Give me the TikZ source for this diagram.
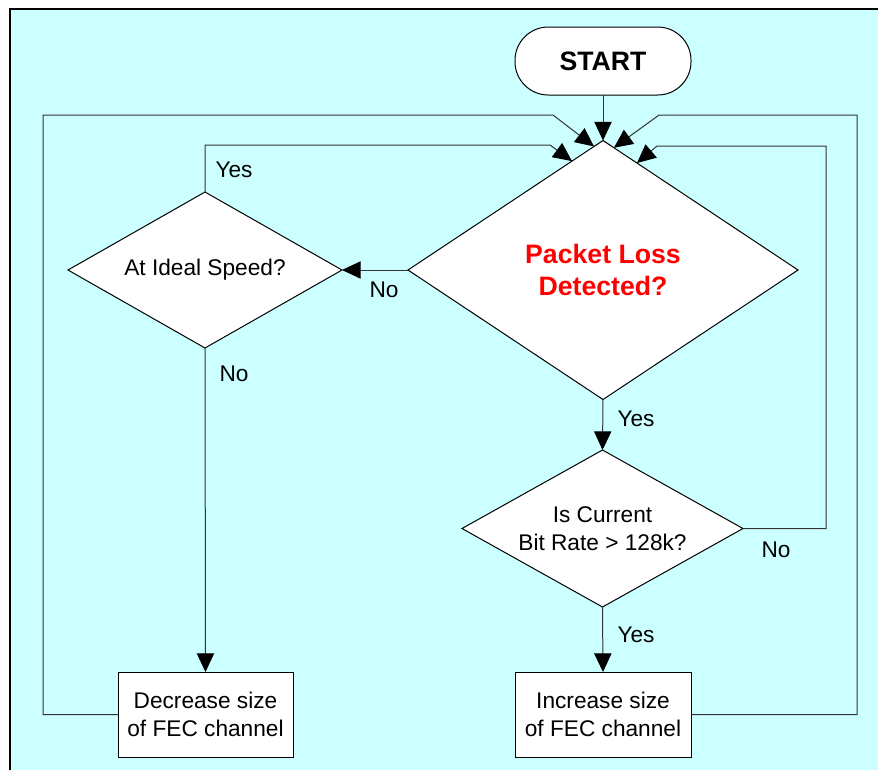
\documentclass[tikz,border=0pt]{standalone}
\usepackage{fontspec}
\setmainfont{Liberation Sans}
\usetikzlibrary{shapes.geometric,arrows.meta,calc}
\definecolor{bg}{HTML}{CCFFFF}
\definecolor{lossred}{HTML}{FF0000}
\begin{document}
\begin{tikzpicture}[x=0.75pt,y=-0.75pt,
  every node/.style={font=\fontsize{17}{21}\selectfont},
  dia/.style={diamond, draw=black, fill=white, line width=0.75pt, inner sep=0pt, outer sep=0pt, align=center},
  box/.style={rectangle, draw=black, fill=white, line width=0.75pt, inner sep=0pt, outer sep=0pt, minimum width=131.25pt, minimum height=63.75pt, align=center},
  conn/.style={line width=0.75pt, draw=black!80},
  arr/.style={conn, -{Triangle[length=14pt,width=13pt,color=black]}},
  lbl/.style={inner sep=0pt}
]
\useasboundingbox (0,0) rectangle (878,769);
\fill[white] (0,0) rectangle (878,769);
\draw[fill=bg, line width=1.5pt] (9.5,8.5) rectangle (900,800);

\node[rectangle, rounded corners=25pt, draw=black, fill=white, line width=0.75pt, outer sep=0pt, minimum width=132pt, minimum height=51pt, font=\bfseries\fontsize{20}{24}\selectfont] (start) at (603,61) {START};
\node[dia, shape aspect=1.506, minimum width=292.5pt, minimum height=194.25pt, font=\bfseries\fontsize{20}{24}\selectfont, text=lossred] (pl) at (603,270) {Packet Loss\\Detected?};
\node[dia, shape aspect=1.756, minimum width=205.5pt, minimum height=117pt] (ideal) at (205,270) {At Ideal Speed?};
\node[dia, shape aspect=1.79, minimum width=210.75pt, minimum height=117.75pt] (rate) at (602.5,528.5) {Is Current\\Bit Rate > 128k?};
\node[box] (dec) at (205.5,714.5) {Decrease size\\of FEC channel};
\node[box, minimum width=132pt] (inc) at (603,714.5) {Increase size\\of FEC channel};

\coordinate (t1) at ($(pl.north)!0.159!(pl.west)$);
\coordinate (t2) at ($(pl.north)!0.046!(pl.west)$);
\coordinate (t3) at ($(pl.north)!0.056!(pl.east)$);
\coordinate (t4) at ($(pl.north)!0.174!(pl.east)$);
\coordinate (c1) at (550,145);
\coordinate (c2) at (553,115);
\coordinate (c3) at (659,115);
\coordinate (c4) at (657,146);
\coordinate (l1) at (43,115);
\coordinate (r1) at (857,115);
\coordinate (r2) at (826,146);

\draw[arr] (start.south) -- (pl.north);
\draw[arr] (pl.west) -- (ideal.east);
\draw[arr] (ideal.north) |- (c1) -- (t1);
\draw[arr] (ideal.south) -- (dec.north);
\draw[arr] (dec.west) -| (l1) -- (c2) -- (t2);
\draw[arr] (pl.south) -- (rate.north);
\draw[arr] (rate.south) -- (inc.north);
\draw[arr] (rate.east) -| (r2) -- (c4) -- (t4);
\draw[arr] (inc.east) -| (r1) -- (c3) -- (t3);

\node[lbl] (yes1) at (234,170) {Yes};
\node[lbl] (no1) at (384,290) {No};
\node[lbl] (no2) at (234,374) {No};
\node[lbl] (yes2) at (636,419) {Yes};
\node[lbl] (no3) at (776,550) {No};
\node[lbl] (yes3) at (636,635) {Yes};
\end{tikzpicture}
\end{document}
